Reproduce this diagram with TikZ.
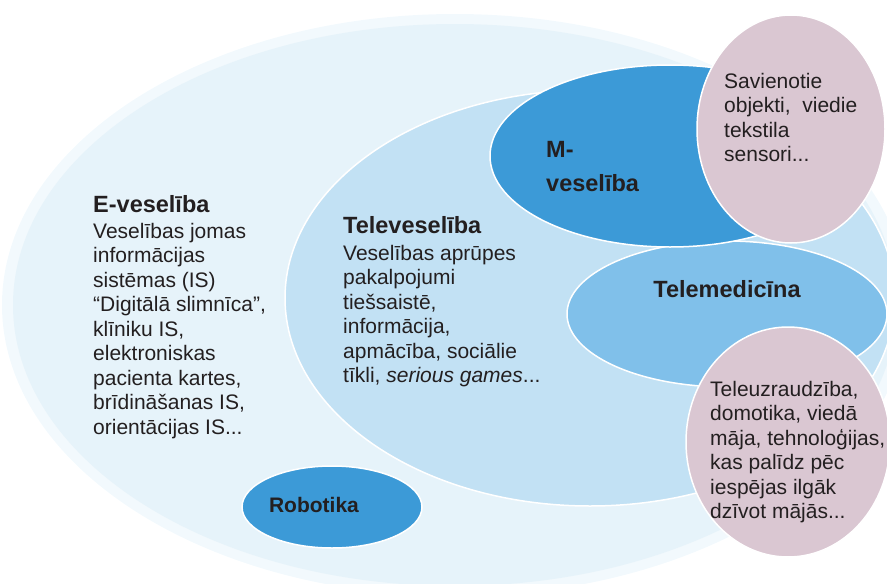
\documentclass[tikz,border=0pt]{standalone}
\usepackage{fontspec}
\setmainfont{Liberation Sans}
\usetikzlibrary{shapes.geometric, positioning}
\definecolor{paleblue}{HTML}{E6F3FA}
\definecolor{haloblue}{HTML}{F2F9FD}
\definecolor{lightblue}{HTML}{C2E1F4}
\definecolor{midblue}{HTML}{80C0EA}
\definecolor{deepblue}{HTML}{3C9AD7}
\definecolor{mauve}{HTML}{DAC7D2}
\definecolor{inkgray}{HTML}{231F20}

\begin{document}
\begin{tikzpicture}[x=1pt, y=-1pt]
\tikzstyle{area} = [ellipse, draw=white, line width=1.5pt, inner sep=0pt]
\tikzstyle{areahead} = [anchor=base west, inner sep=0pt, text=inkgray, font=\fontsize{23.5}{34}\selectfont\bfseries, align=left]
\tikzstyle{areatext} = [anchor=north west, inner sep=0pt, text=inkgray, font=\fontsize{21}{24.5}\selectfont, align=left]

\useasboundingbox (0,0) rectangle (887,584);
\clip (0,0) rectangle (887,584);

\node (ehalo) [ellipse, fill=haloblue, inner sep=0pt, minimum width=906pt, minimum height=582pt] at (455,305) {};
\node (ehealth) [ellipse, fill=paleblue, inner sep=0pt, minimum width=884pt, minimum height=562pt] at (455,305) {};
\node (telehealth) [area, fill=lightblue, minimum width=610pt, minimum height=416pt] at (590,298) {};
\node (telemed) [area, fill=midblue, minimum width=320pt, minimum height=146pt] at (727,314) {};
\node (mhealth) [area, fill=deepblue, minimum width=360pt, minimum height=182pt] at (670,156) {};
\node (robotics) [area, fill=deepblue, minimum width=180pt, minimum height=82pt] at (332,507) {};
\node (objects) [area, fill=mauve, minimum width=188pt, minimum height=228pt] at (791,129) {};
\node (homecare) [area, fill=mauve, minimum width=204pt, minimum height=230pt] at (788,442) {};

\node (ehealthhead) [areahead] at (93,212) {E-veselība};
\node (ehealthtext) [areatext] at (93,223) {Veselības jomas\\informācijas\\sistēmas (IS)\\“Digitālā slimnīca”,\\klīniku IS,\\elektroniskas\\pacienta kartes,\\brīdināšanas IS,\\orientācijas IS...};
\node (telehealthhead) [areahead] at (343,233) {Televeselība};
\node (telehealthtext) [areatext] at (343,245) {Veselības aprūpes\\pakalpojumi\\tiešsaistē,\\informācija,\\apmācība, sociālie\\tīkli, \textit{serious games}...};
\node (mhealthhead) [areahead, anchor=north west] at (546,141) {M-\\veselība};
\node (telemedhead) [areahead, anchor=base] at (727,297) {Telemedicīna};
\node (roboticshead) [areahead, anchor=base, font=\fontsize{21}{25}\selectfont\bfseries] at (314,512) {Robotika};
\node (objectstext) [areatext] at (724,73) {Savienotie\\objekti,\ \ viedie\\tekstila\\sensori...};
\node (homecaretext) [areatext] at (710,381) {Teleuzraudzība,\\domotika, viedā\\māja, tehnoloģijas,\\kas palīdz pēc\\iespējas ilgāk\\dzīvot mājās...};

\end{tikzpicture}
\end{document}
